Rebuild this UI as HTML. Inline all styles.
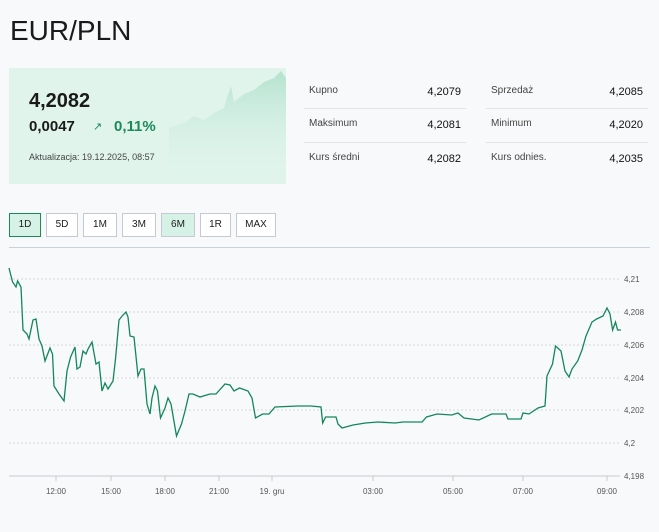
<!DOCTYPE html>
<html><head><meta charset="utf-8"><style>
body{margin:0;width:659px;height:532px;background:#f8f9fa;font-family:"Liberation Sans",sans-serif;position:relative;overflow:hidden;color:#1a1a1a}
.a{position:absolute;white-space:nowrap}
.box{position:absolute;left:9px;top:68px;width:277px;height:116px;background:#e0f4ec;overflow:hidden}
.lbl{font-size:10px;color:#444}
.val{font-size:11px;color:#111;text-align:right;width:60px}
.hr{position:absolute;height:1px;background:#e2e4e7}
.btn{position:absolute;top:213px;border:1px solid #c4cad0;background:#fff;font-size:10px;line-height:22px;text-align:center;box-sizing:border-box;height:24px}
</style></head><body>
<div class="a" style="left:10px;top:15px;font-size:28px;color:#1a1a1a">EUR/PLN</div>
<div class="box">
<svg width="277" height="116" style="position:absolute;left:0;top:0"><defs><linearGradient id="g" x1="0" y1="0" x2="0" y2="1"><stop offset="0" stop-color="#b5e2cf"/><stop offset="1" stop-color="#e0f4ec" stop-opacity="0"/></linearGradient></defs>
<path d="M160,116 L160,60 175,55 185,48 195,52 205,45 215,40 218,30 222,18 225,34 235,26 245,22 255,14 265,10 272,3 277,10 L277,116Z" fill="url(#g)"/></svg>
<div class="a" style="left:20px;top:22px;font-size:20px;font-weight:bold">4,2082</div>
<div class="a" style="left:20px;top:50px;font-size:15px;font-weight:bold">0,0047</div>
<div class="a" style="left:84px;top:52px;font-size:11px;color:#1a8a5a">↗</div>
<div class="a" style="left:105px;top:50px;font-size:15px;font-weight:bold;color:#1a8a5a">0,11%</div>
<div class="a" style="left:20px;top:84px;font-size:9px;color:#444">Aktualizacja: 19.12.2025, 08:57</div>
</div>
<div class="a lbl" style="left:309px;top:85px">Kupno</div><div class="a val" style="left:401px;top:86px">4,2079</div>
<div class="a lbl" style="left:309px;top:118px">Maksimum</div><div class="a val" style="left:401px;top:119px">4,2081</div>
<div class="a lbl" style="left:309px;top:152px">Kurs średni</div><div class="a val" style="left:401px;top:153px">4,2082</div>
<div class="a lbl" style="left:491px;top:85px">Sprzedaż</div><div class="a val" style="left:583px;top:86px">4,2085</div>
<div class="a lbl" style="left:491px;top:118px">Minimum</div><div class="a val" style="left:583px;top:119px">4,2020</div>
<div class="a lbl" style="left:491px;top:152px">Kurs odnies.</div><div class="a val" style="left:583px;top:153px">4,2035</div>
<div class="hr" style="left:304px;width:162px;top:108px"></div><div class="hr" style="left:304px;width:162px;top:142px"></div>
<div class="hr" style="left:486px;width:162px;top:108px"></div><div class="hr" style="left:486px;width:162px;top:142px"></div>
<div class="btn" style="left:9px;width:32px;border-color:#1a8a5a;background:#d6f2e6">1D</div>
<div class="btn" style="left:46px;width:32px">5D</div>
<div class="btn" style="left:83px;width:34px">1M</div>
<div class="btn" style="left:122px;width:34px">3M</div>
<div class="btn" style="left:161px;width:34px;background:#d6f2e6">6M</div>
<div class="btn" style="left:200px;width:31px">1R</div>
<div class="btn" style="left:236px;width:40px">MAX</div>
<div class="hr" style="left:9px;width:641px;top:247px;background:#c9d3dc"></div>
<svg width="659" height="532" style="position:absolute;left:0;top:0" font-family="Liberation Sans" font-size="8" fill="#555">
<g stroke="#d4d8dc" stroke-dasharray="2,2">
<line x1="9" x2="620" y1="279" y2="279"/><line x1="9" x2="620" y1="312" y2="312"/><line x1="9" x2="620" y1="345" y2="345"/><line x1="9" x2="620" y1="378" y2="378"/><line x1="9" x2="620" y1="410" y2="410"/><line x1="9" x2="620" y1="443" y2="443"/></g>
<line x1="9" x2="620" y1="476" y2="476" stroke="#c8ccd0"/>
<g stroke="#c8ccd0"><line x1="56" x2="56" y1="476" y2="481"/><line x1="111" x2="111" y1="476" y2="481"/><line x1="165" x2="165" y1="476" y2="481"/><line x1="219" x2="219" y1="476" y2="481"/><line x1="272" x2="272" y1="476" y2="481"/><line x1="373" x2="373" y1="476" y2="481"/><line x1="453" x2="453" y1="476" y2="481"/><line x1="523" x2="523" y1="476" y2="481"/><line x1="607" x2="607" y1="476" y2="481"/></g>
<g text-anchor="middle"><text x="56" y="494">12:00</text><text x="111" y="494">15:00</text><text x="165" y="494">18:00</text><text x="219" y="494">21:00</text><text x="272" y="494">19. gru</text><text x="373" y="494">03:00</text><text x="453" y="494">05:00</text><text x="523" y="494">07:00</text><text x="607" y="494">09:00</text></g>
<g><text x="624" y="282">4,21</text><text x="624" y="315">4,208</text><text x="624" y="348">4,206</text><text x="624" y="381">4,204</text><text x="624" y="413">4,202</text><text x="624" y="446">4,2</text><text x="624" y="479">4,198</text></g>
<polyline fill="none" stroke="#13875a" stroke-width="1.3" points="9,268 10.5,274 12.6,282 16,287 17.6,281 21,287 23,330 27,334 29,339 33,320 36,319 39,339 42,346 45,361 50,348 52.5,354 54,386 59,394 64,401 67,371 70.6,357 75,347 77,369 80,367 83,351 86,354 88,349 92,342 96,364 99,362 102,391 105,383 108,389 113,381 115.5,359 119,320 123,315 126,312 128,317 130,336 134,337 138,376 141,369 144,369 147,404 150,414 152,398 155,386 157.5,391 160.5,418 165,408 168,398 171,404 176.5,436 181.5,424 185,411 189,394 193,394 200,397 210,394 216,394 225,384 230,385 234,391 239.5,388 248,391 252,398 255.5,418 262.6,414 269,414 275,407 298,406 311,406 321,407 322.7,423 325.6,417 336,417 338,424 342,428 353,425 365.5,423 378,422 395,423 403,422 422,422 426.5,417 437,414 451.7,415 458,413 464,418 479,420 491.6,414 506,414 508,419 521,419 523,413 529,414 538,408 545,406 547,376 552.5,364 555.5,346 561,351 565,371 569,377 572,369 577.7,361 582,350 586,336 592,322 596.6,319 603,316 607,308 610,314 612.6,330 615.5,322 617.6,330 621,330"/>
</svg>
</body></html>
